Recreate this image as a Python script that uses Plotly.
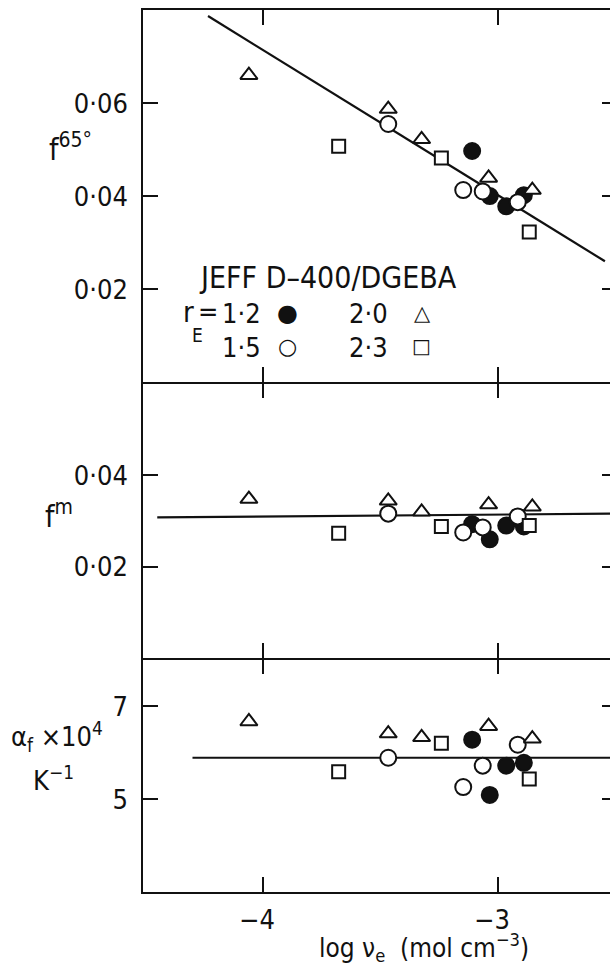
import plotly.graph_objects as go

# ---------------- data ----------------
# log nu_e positions of each series (r_E values)
x_r12 = [-3.11, -3.035, -2.965, -2.89]
x_r15 = [-3.467, -3.148, -3.065, -2.916]
x_r20 = [-4.06, -3.467, -3.325, -3.04, -2.854]
x_r23 = [-3.678, -3.241, -2.867]

# top panel: f^65
f65_r12 = [0.0497, 0.0400, 0.0378, 0.0402]
f65_r15 = [0.0555, 0.0413, 0.0410, 0.0387]
f65_r20 = [0.0660, 0.0587, 0.0522, 0.0439, 0.0413]
f65_r23 = [0.0507, 0.0482, 0.0323]

# middle panel: f^m
fm_r12 = [0.0293, 0.0260, 0.0290, 0.0288]
fm_r15 = [0.0316, 0.0275, 0.0286, 0.0310]
fm_r20 = [0.0348, 0.0344, 0.0320, 0.0336, 0.0331]
fm_r23 = [0.0273, 0.0288, 0.0290]

# bottom panel: alpha_f x 10^4 (K^-1)
af_r12 = [6.28, 5.09, 5.72, 5.78]
af_r15 = [5.89, 5.26, 5.72, 6.17]
af_r20 = [6.67, 6.41, 6.33, 6.57, 6.30]
af_r23 = [5.59, 6.20, 5.43]

# drawn reference lines
fit1_x = [-4.234, -2.545]
fit1_y = [0.0787, 0.0260]
fit2_x = [-4.45, -2.52]
fit2_y = [0.0308, 0.0316]
fit3_x = [-4.30, -2.52]
fit3_y = [5.89, 5.89]

x_ticks = [-4, -3]
x_ticktext = ["−4", "−3"]
y1_ticks = [0.02, 0.04, 0.06]
y1_ticktext = ["0·02", "0·04", "0·06"]
y2_ticks = [0.02, 0.04]
y2_ticktext = ["0·02", "0·04"]
y3_ticks = [5, 7]
y3_ticktext = ["5", "7"]

# ---------------- figure ----------------
FONT = "Liberation Sans Narrow, DejaVu Sans Condensed, Arial Narrow, sans-serif"
SYMF = "DejaVu Sans, sans-serif"
BLACK = "#111111"
LW = 1.5

fig = go.Figure()

series = [
    (x_r12, "circle", BLACK, 16),
    (x_r15, "circle", "white", 16),
    (x_r20, "triangle-up", "white", 15),
    (x_r23, "square", "white", 13),
]
panels = [
    ("x3", "y3", [f65_r12, f65_r15, f65_r20, f65_r23], fit1_x, fit1_y),
    ("x2", "y2", [fm_r12, fm_r15, fm_r20, fm_r23], fit2_x, fit2_y),
    ("x", "y", [af_r12, af_r15, af_r20, af_r23], fit3_x, fit3_y),
]

for xa, ya, ys, fx, fy in panels:
    fig.add_trace(go.Scatter(x=fx, y=fy, mode="lines", xaxis=xa, yaxis=ya,
                             line=dict(color=BLACK, width=2.2), showlegend=False,
                             hoverinfo="skip"))
    for (xs, sym, fill, size), yv in zip(series, ys):
        fig.add_trace(go.Scatter(
            x=xs, y=yv, mode="markers", xaxis=xa, yaxis=ya, showlegend=False,
            marker=dict(symbol=sym, size=size, color=fill,
                        line=dict(color=BLACK, width=2))))

XR = [-4.5106, -2.5234]
axis_common = dict(showline=True, linecolor=BLACK, linewidth=LW,
                   ticks="inside", tickcolor=BLACK, tickwidth=LW,
                   showgrid=False, zeroline=False)
xcommon = dict(axis_common, range=XR, tickvals=x_ticks, ticklen=15,
               mirror="ticks", domain=[0, 1])

H = 882.0
g = LW / H / 2  # half gap so neighbouring frame lines coincide
d3 = [0.0, 0.2642 - g]
d2 = [0.2642 + g, 0.5771 - g]
d1 = [0.5771 + g, 1.0]

right_common = dict(side="right", ticks="inside", ticklen=8, tickwidth=LW,
                    tickcolor=BLACK, showticklabels=False, showline=False,
                    linewidth=0, linecolor="rgba(0,0,0,0)",
                    showgrid=False, zeroline=False)

fig.update_layout(
    width=610, height=965,
    margin=dict(l=143, r=0, t=10, b=73),
    paper_bgcolor="white", plot_bgcolor="white",
    font=dict(family=FONT, size=27, color=BLACK),
    xaxis=dict(xcommon, anchor="y", ticktext=x_ticktext, ticklabelstandoff=3,
               ticklabelshift=-6, tickfont=dict(size=27)),
    xaxis2=dict(xcommon, anchor="y2", matches="x", showticklabels=False),
    xaxis3=dict(xcommon, anchor="y3", matches="x", showticklabels=False),
    yaxis=dict(axis_common, domain=d3, anchor="x", range=[3, 8],
               tickvals=y3_ticks, ticktext=y3_ticktext, ticklen=15,
               ticklabelstandoff=8),
    yaxis2=dict(axis_common, domain=d2, anchor="x2", range=[0, 0.06],
                tickvals=y2_ticks, ticktext=y2_ticktext, ticklen=15,
                ticklabelstandoff=8),
    yaxis3=dict(axis_common, domain=d1, anchor="x3", range=[0, 0.08],
                tickvals=y1_ticks, ticktext=y1_ticktext, ticklen=15,
                ticklabelstandoff=8),
    # right-hand tick stubs (the right frame is cropped off)
    yaxis4=dict(right_common, overlaying="y", anchor="x", range=[3, 8],
                tickvals=y3_ticks),
    yaxis5=dict(right_common, overlaying="y2", anchor="x2", range=[0, 0.06],
                tickvals=y2_ticks),
    yaxis6=dict(right_common, overlaying="y3", anchor="x3", range=[0, 0.08],
                tickvals=y1_ticks),
)
# empty traces so the right tick axes are rendered
for ya, xa in [("y4", "x"), ("y5", "x2"), ("y6", "x3")]:
    fig.add_trace(go.Scatter(x=[None], y=[None], xaxis=xa, yaxis=ya,
                             showlegend=False, hoverinfo="skip"))


def px_x(px):
    return (px - 143) / 467.0


def px_y(py):
    return (892 - py) / H


ann = []
def add(text, x, y, size=27, xanchor="center", yanchor="middle", family=FONT):
    ann.append(dict(text=text, x=px_x(x), y=px_y(y), xref="paper", yref="paper",
                    showarrow=False, xanchor=xanchor, yanchor=yanchor,
                    font=dict(family=family, size=size, color=BLACK)))

# axis titles
add("f<sup>65°</sup>", 70, 148, size=30)
add("f<sup>m</sup>", 59, 514, size=30)
add("α<sub>f</sub> ×10<sup>4</sup>", 57, 736, size=27)
add("K<sup>−1</sup>", 53, 778, size=27)
add("log ν<sub>e</sub>  (mol cm<sup>−3</sup>)", 424, 947, size=26)

# legend block
add("JEFF D–400/DGEBA", 197, 278, size=30, xanchor="left")
add("r", 188, 312, size=29)
add("E", 197, 335, size=19)
add("=", 208, 311, size=27)
add("1·2", 263, 313, size=27, xanchor="right")
add("1·5", 263, 347, size=27, xanchor="right")
add("2·0", 390, 313, size=27, xanchor="right")
add("2·3", 390, 347, size=27, xanchor="right")
add("●", 287, 313, size=24, family=SYMF)
add("○", 287, 346, size=22, family=SYMF)
add("△", 422, 313, size=21, family=SYMF)
add("□", 421, 346, size=20, family=SYMF)

fig.update_layout(annotations=ann)

fig.write_html(
    "out.html",
    config={"displayModeBar": False},
    post_script="document.body.style.margin='0px';"
                "document.documentElement.style.overflow='hidden';"
                "document.body.style.overflow='hidden';",
)
